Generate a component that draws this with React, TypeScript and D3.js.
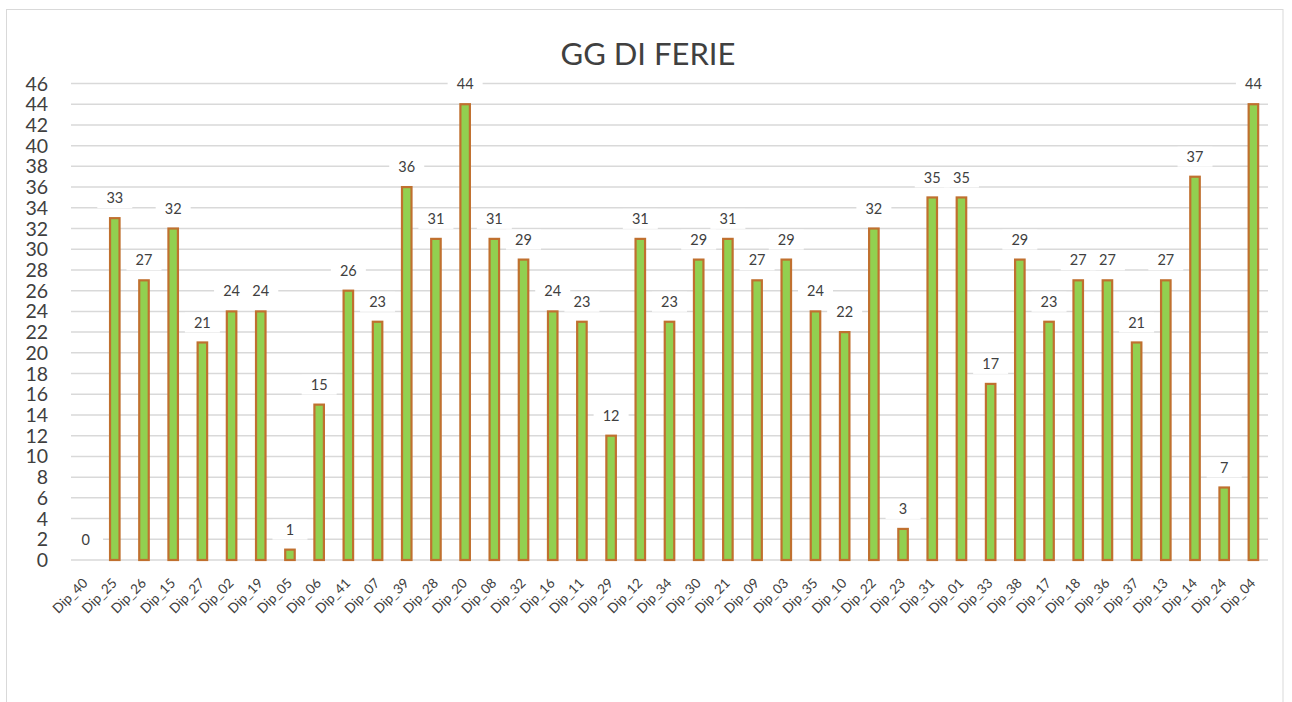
import React from "react";
import * as d3 from "d3";

const title = "GG DI FERIE";
const categories = ["Dip_40","Dip_25","Dip_26","Dip_15","Dip_27","Dip_02","Dip_19","Dip_05","Dip_06","Dip_41","Dip_07","Dip_39","Dip_28","Dip_20","Dip_08","Dip_32","Dip_16","Dip_11","Dip_29","Dip_12","Dip_34","Dip_30","Dip_21","Dip_09","Dip_03","Dip_35","Dip_10","Dip_22","Dip_23","Dip_31","Dip_01","Dip_33","Dip_38","Dip_17","Dip_18","Dip_36","Dip_37","Dip_13","Dip_14","Dip_24","Dip_04"];
const values = [0,33,27,32,21,24,24,1,15,26,23,36,31,44,31,29,24,23,12,31,23,29,31,27,29,24,22,32,3,35,35,17,29,23,27,27,21,27,37,7,44];
const yTicks = d3.range(0, 47, 2);

const W = 1292, H = 702;
const plot = { left: 71, right: 1268, top: 83.5, bottom: 560 };

export default function App() {
  const x = d3.scaleBand<string>().domain(categories).range([plot.left, plot.right]).paddingInner(0).paddingOuter(0);
  const y = d3.scaleLinear().domain([0, 46]).range([plot.bottom, plot.top]);
  const barW = 9.5;
  const font = "Lato, 'Open Sans', sans-serif";
  return (
    <svg width={W} height={H} style={{ position: "absolute", left: 0, top: 0, background: "#fff" }}>
      <rect x={6.5} y={9.5} width={1276.5} height={700} fill="#fff" stroke="#d9d9d9" strokeWidth={1} />
      <text x={648} y={65} textAnchor="middle" fontFamily={font} fontSize={31} fill="#404040">{title}</text>
      {yTicks.map((t) => (
        <g key={t}>
          <line x1={plot.left} x2={plot.right} y1={y(t)} y2={y(t)} stroke="#d9d9d9" strokeWidth={1.5} />
          <text x={48} y={y(t)} dy="0.36em" textAnchor="end" fontFamily={font} fontSize={19.5} fill="#404040">{t}</text>
        </g>
      ))}
      {categories.map((c, i) => {
        const cx = x(c)! + x.bandwidth() / 2;
        const v = values[i];
        const lx = cx + 3, ly = 584;
        return (
          <g key={c}>
            {v > 0 && (
              <rect x={cx - barW / 2} y={y(v)} width={barW} height={y(0) - y(v)} fill="#92d050" stroke="#c0702f" strokeWidth={2.2} />
            )}
            <rect x={cx - 17.5} y={y(v) - 30} width={35} height={20} fill="#fff" />
            <text x={cx} y={y(v) - 20} dy="0.35em" textAnchor="middle" fontFamily={font} fontSize={14.5} fill="#404040">{v}</text>
            <text x={lx} y={ly} transform={`rotate(-45 ${lx} ${ly})`} textAnchor="end" fontFamily={font} fontSize={13.5} fill="#404040">{c}</text>
          </g>
        );
      })}
    </svg>
  );
}
